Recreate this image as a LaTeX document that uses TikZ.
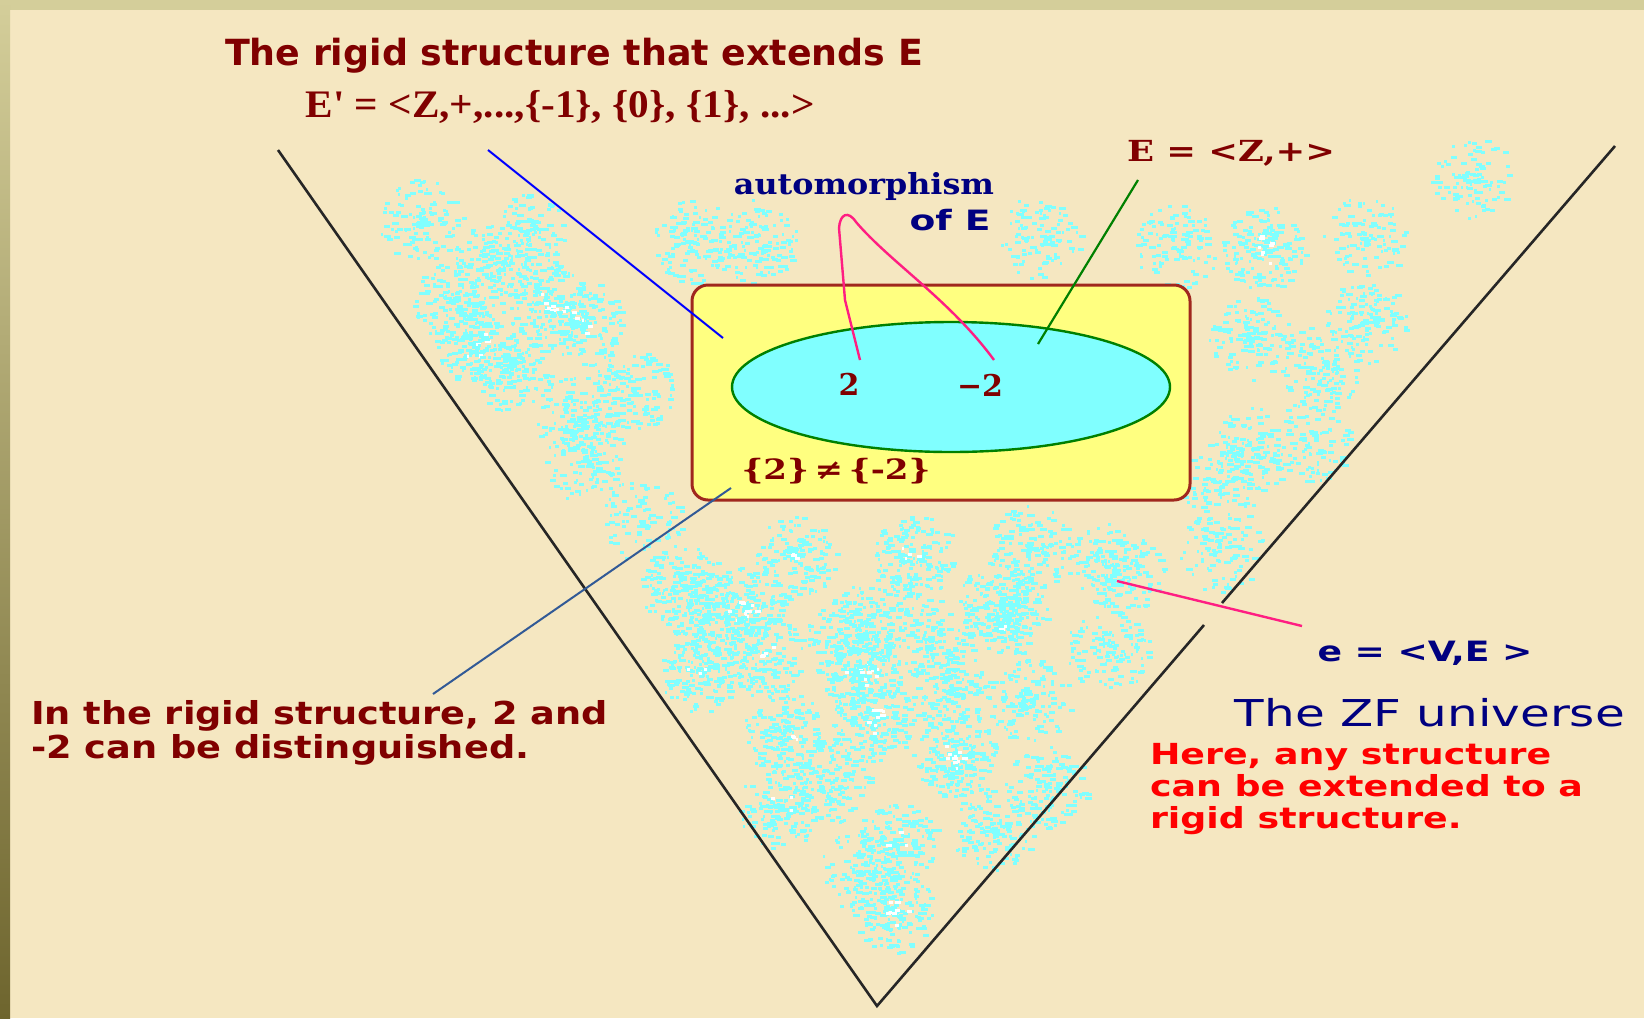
\documentclass[tikz,border=0pt]{standalone}
\usepackage{fontspec}
\usepackage{graphicx}
\usetikzlibrary{shapes.geometric}
\setmainfont{DejaVu Sans}
\newfontfamily\dvserif{DejaVu Serif}
\newfontfamily\libserif{Liberation Serif}
\definecolor{bgc}{RGB}{245,231,193}
\definecolor{stripc}{RGB}{212,206,154}
\definecolor{stripbot}{RGB}{110,101,46}
\definecolor{dred}{RGB}{128,0,0}
\definecolor{navyc}{RGB}{0,0,128}
\definecolor{rectfill}{RGB}{255,255,128}
\definecolor{rectdraw}{RGB}{160,40,30}
\definecolor{ellfill}{RGB}{128,255,255}
\definecolor{ellgreen}{RGB}{0,128,0}
\definecolor{pinkc}{RGB}{255,30,130}
\definecolor{tealc}{RGB}{50,90,150}
\definecolor{cloudc}{RGB}{128,255,255}
\newcommand\fitw[2]{\resizebox{#1}{\height}{#2}}
\newcommand\cloudcl[4]{%
  \foreach \i in {1,...,#3}{%
    \pgfmathsetmacro\ang{360*rnd}%
    \pgfmathsetmacro\rad{42*rnd^0.7}%
    \pgfmathsetmacro\len{2+5*rnd}%
    \fill[cloudc] (#1,#2) ++(\ang:\rad) rectangle ++(\len,3);
  }%
  \ifnum#4>0
  \foreach \i in {1,...,#4}{%
    \pgfmathsetmacro\ang{360*rnd}%
    \pgfmathsetmacro\rad{16*rnd}%
    \pgfmathsetmacro\len{2+4*rnd}%
    \fill[white] (#1,#2) ++(\ang:\rad) rectangle ++(\len,3);
  }%
  \fi
}
\begin{document}
\begin{tikzpicture}[x=0.5pt,y=-0.5pt,
  vline/.style={draw=black!85, line width=1.3pt},
  txt/.style={inner sep=0pt, outer sep=0pt},
  pinkline/.style={draw=pinkc, line width=1.2pt},
]
\useasboundingbox (0,0) rectangle (1644,1018);
\fill[bgc] (0,0) rectangle (1644,1018);
\fill[stripc] (0,0) rectangle (1644,10);
\shade[top color=stripc, bottom color=stripbot] (0,0) rectangle (10,1018);

% clouds
\pgfmathsetseed{4242}
\foreach \cx/\cy/\n/\w in {
  420/220/120/0, 523/233/120/0, 493/263/140/0, 455/300/140/0, 550/305/170/8,
  583/323/140/5, 477/343/170/8, 510/370/140/0, 633/387/140/0, 577/417/140/0,
  587/463/120/0, 692/241/130/0, 755/241/130/0, 1038/236/110/0, 1176/246/110/0,
  1263/248/170/8, 1364/238/110/0, 1473/179/100/0, 1249/338/130/0, 1364/321/130/0,
  1322/366/130/0, 1253/449/130/0, 1221/484/100/0, 1308/442/100/0, 1221/550/100/0,
  1121/574/80/0, 682/586/160/0, 743/607/190/10, 796/557/140/3, 914/554/160/4,
  1029/546/140/0, 1107/564/120/0, 1007/614/160/3, 879/614/140/0, 700/671/160/3,
  761/654/160/4, 860/671/200/12, 843/640/140/0, 871/721/170/8, 782/732/160/3,
  1029/700/140/0, 1107/650/120/0, 954/755/200/12, 779/807/160/3, 896/843/160/3,
  993/829/140/0, 893/911/170/8, 1046/786/140/0, 950/690/150/0, 930/640/120/0,
  700/620/120/0, 830/780/140/0, 1000/600/120/0, 640/520/90/0, 860/870/120/0}
{\cloudcl{\cx}{\cy}{\n}{\w}}

% the V
\coordinate (vl) at (278,150);
\coordinate (vb) at (877,1006);
\coordinate (vr) at (1615,146);
\coordinate (g1) at (1222,603);
\coordinate (g2) at (1204,625);
\draw[vline] (vl) -- (vb) -- (g2);
\draw[vline] (g1) -- (vr);

% structure box
\node[draw=rectdraw, fill=rectfill, line width=1.5pt, rounded corners=8pt,
  minimum width=249pt, minimum height=107.5pt, inner sep=0pt] (box) at (941,392.5) {};
\node[ellipse, draw=ellgreen, fill=ellfill, line width=1.2pt,
  minimum width=219pt, minimum height=65pt, inner sep=0pt] (ell) at (951,387) {};

% texts
\node[txt, text=dred, font=\fontsize{18}{22}\selectfont\bfseries] (title) at (574,56)
  {\fitw{349pt}{The rigid structure that extends E}};
\node[txt, text=dred, font=\libserif\fontsize{19.5}{22}\selectfont\bfseries] (eprime) at (560,107)
  {\fitw{254.5pt}{E' = <Z,+,...,\{-1\}, \{0\}, \{1\}, ...>}};
\node[txt, text=dred, font=\dvserif\fontsize{14.5}{18}\selectfont\bfseries] (ez) at (1231,153)
  {\fitw{104pt}{E = <Z,+>}};
\node[txt, text=navyc, font=\dvserif\fontsize{14.5}{18}\selectfont\bfseries] (auto) at (864,186)
  {\fitw{130pt}{automorphism}};
\node[txt, text=navyc, font=\fontsize{14}{18}\selectfont\bfseries] (ofe) at (950,220)
  {\fitw{40.5pt}{of E}};
\node[txt, text=dred, font=\dvserif\fontsize{15}{18}\selectfont\bfseries] (two) at (849,384) {2};
\node[txt, text=dred, font=\dvserif\fontsize{15}{18}\selectfont\bfseries] (mtwo) at (980,385) {−2};
\node[txt, text=dred, font=\dvserif\fontsize{14}{18}\selectfont\bfseries] (neq) at (836,471)
  {\fitw{94.5pt}{\{2\}\,≠\,\{-2\}}};
\node[txt, text=dred, anchor=west] (rigid) at (31,734)
  {\fitw{288.5pt}{\fontsize{15.8}{16}\selectfont\bfseries\begin{tabular}{@{}l@{}}In the rigid structure, 2 and\\-2 can be distinguished.\end{tabular}}};
\node[txt, text=navyc, font=\fontsize{14}{18}\selectfont\bfseries] (ev) at (1425,653)
  {\fitw{107.5pt}{e = <V,E >}};
\node[txt, text=navyc, font=\fontsize{18.5}{22}\selectfont] (zf) at (1430,713)
  {\fitw{195pt}{The ZF universe}};
\node[txt, text=red, anchor=west] (here) at (1150,790)
  {\fitw{216.5pt}{\fontsize{14.5}{16}\selectfont\bfseries\begin{tabular}{@{}l@{}}Here, any structure\\can be extended to a\\rigid structure.\end{tabular}}};

% connectors
\coordinate (bl1) at (488,150);
\coordinate (bl2) at (723,338);
\draw[blue, line width=1pt] (bl1) -- (bl2);
\coordinate (gr1) at (1138,180);
\coordinate (gr2) at (1038,344);
\draw[ellgreen, line width=1.1pt] (gr1) -- (gr2);
\coordinate (pk2top) at (860,360);
\coordinate (pkm2top) at (994,360);
\draw[pinkline] (pk2top) -- (845,300) -- (839,228) .. controls (840,214) and (848,210) .. (856,222)
  .. controls (890,262) and (950,300) .. (pkm2top);
\coordinate (tl1) at (731,488);
\coordinate (tl2) at (433,694);
\draw[tealc, line width=1pt] (tl1) -- (tl2);
\coordinate (pe1) at (1117,581);
\coordinate (pe2) at (1302,626);
\draw[pinkline] (pe1) -- (pe2);
\end{tikzpicture}
\end{document}
